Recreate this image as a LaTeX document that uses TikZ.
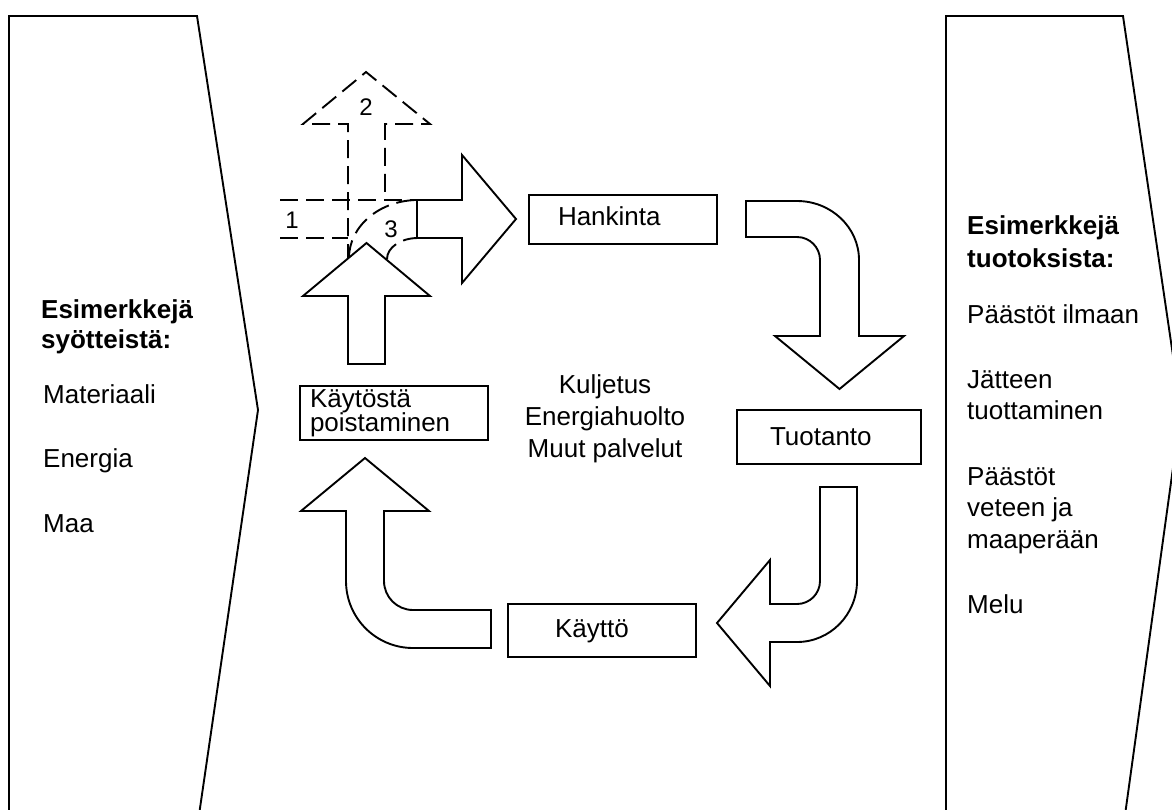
\documentclass[tikz,border=0pt]{standalone}
\usepackage{fontspec}
\setmainfont{Liberation Sans}
\begin{document}
\begin{tikzpicture}[x=1pt,y=-1pt,
  panel/.style={draw, line width=1.9pt, line join=miter},
  blockarrow/.style={draw, fill=white, line width=1.9pt, line join=miter},
  dasharrow/.style={draw, line width=1.9pt, dash pattern=on 18pt off 8pt},
  box/.style={draw, line width=1.9pt, inner ysep=0pt, font=\fontsize{26}{31}\selectfont},
  txt/.style={inner sep=0pt, anchor=base west, font=\fontsize{26}{31}\selectfont},
  btxt/.style={txt, font=\fontsize{26}{31}\selectfont\bfseries},
  ctxt/.style={inner sep=0pt, anchor=base, font=\fontsize{26}{31}\selectfont},
  numtxt/.style={inner sep=0pt, anchor=base, font=\fontsize{24}{28}\selectfont}
]
\useasboundingbox (0,0) rectangle (1172,809);
\clip (0,0) rectangle (1172,809);

% side panels
\draw[panel] (9,815) -- (9,16) -- (197,16) -- (258,410) -- (199,815);
\draw[panel] (946,815) -- (946,16) -- (1123,16) -- (1181,410) -- (1125,815);

% left panel texts
\node[btxt] (inh1) at (41,318) {Esimerkkejä};
\node[btxt] (inh2) at (41,348) {syötteistä:};
\node[txt] (in1) at (43,403) {Materiaali};
\node[txt] (in2) at (43,467) {Energia};
\node[txt] (in3) at (43,532) {Maa};

% right panel texts
\node[btxt] (outh1) at (967,234) {Esimerkkejä};
\node[btxt] (outh2) at (967,267) {tuotoksista:};
\node[txt] (out1) at (967,323) {Päästöt ilmaan};
\node[txt] (out2a) at (967,388) {Jätteen};
\node[txt] (out2b) at (967,419) {tuottaminen};
\node[txt] (out3a) at (967,485) {Päästöt};
\node[txt] (out3b) at (967,516) {veteen ja};
\node[txt] (out3c) at (967,548) {maaperään};
\node[txt] (out4) at (967,613) {Melu};

% centre texts
\node[ctxt] (c1) at (605,393) {Kuljetus};
\node[ctxt] (c2) at (605,425) {Energiahuolto};
\node[ctxt] (c3) at (605,457) {Muut palvelut};

% boxes
\node[box, inner xsep=29pt, text height=30pt, text depth=19pt] (hank) at (623,219.5)
  {\hbox to 130pt{Hankinta\hss}};
\node[box, inner xsep=33pt, text height=35pt, text depth=19pt] (tuot) at (829,437)
  {\hbox to 118pt{Tuotanto\hss}};
\node[box, inner xsep=47pt, text height=33pt, text depth=20pt] (kayt) at (602,630.5)
  {\hbox to 94pt{Käyttö\hss}};
\node[box, inner xsep=10pt, text height=45pt, text depth=9pt] (pois) at (394,413)
  {\hbox to 168pt{\vbox{\baselineskip=24pt\lineskiplimit=-100pt\lineskip=0pt\hbox{Käytöstä}\hbox{poistaminen}}\hss}};

% block arrow: Hankinta -> Tuotanto
\path[blockarrow] (746,201) -- (797,201) .. controls (831.2,201) and (859,227.4) .. (859,260)
  -- (859,336) -- (904,336) -- (839.5,389) -- (775,336) -- (820,336) -- (820,260)
  .. controls (820,247.3) and (809.7,237) .. (797,237) -- (746,237) -- cycle;

% block arrow: Tuotanto -> Käyttö
\path[blockarrow] (820,487) -- (820,581) .. controls (820,593.7) and (809.7,604) .. (797,604)
  -- (770,604) -- (770,560) -- (717,623) -- (770,686) -- (770,642) -- (797,642)
  .. controls (830.1,642) and (857,614.7) .. (857,581) -- (857,487) -- cycle;

% block arrow: Käyttö -> Käytöstä poistaminen
\path[blockarrow] (491,610) -- (413,610) .. controls (397,610) and (384,597) .. (384,581)
  -- (384,511) -- (429,511) -- (365,458) -- (301,511) -- (346,511) -- (346,581)
  .. controls (346,618) and (376,648) .. (413,648) -- (491,648) -- cycle;

% dashed alternatives
\path[dasharrow] (280,200) -- (417,200);
\path[dasharrow] (280,238) -- (348,238);
\path[dasharrow] (348,262) -- (348,124) -- (303,124) -- (366,72) -- (430,124) -- (385,124) -- (385,200);
\path[dasharrow] (349,258) .. controls (349,226) and (380,200) .. (418,200);
\path[dasharrow] (387,259) .. controls (387,247.4) and (400.9,238) .. (418,238);

% solid up arrow and right arrow
\path[blockarrow] (348,364) -- (348,296) -- (303,296) -- (366.5,243) -- (430,296) -- (385,296) -- (385,364) -- cycle;
\path[blockarrow] (417,200) -- (462,200) -- (462,155) -- (516,219) -- (462,283) -- (462,238) -- (417,238) -- cycle;

% numbers
\node[numtxt] (n1) at (292,228) {1};
\node[numtxt] (n2) at (366,115) {2};
\node[numtxt] (n3) at (391,237) {3};
\end{tikzpicture}
\end{document}
